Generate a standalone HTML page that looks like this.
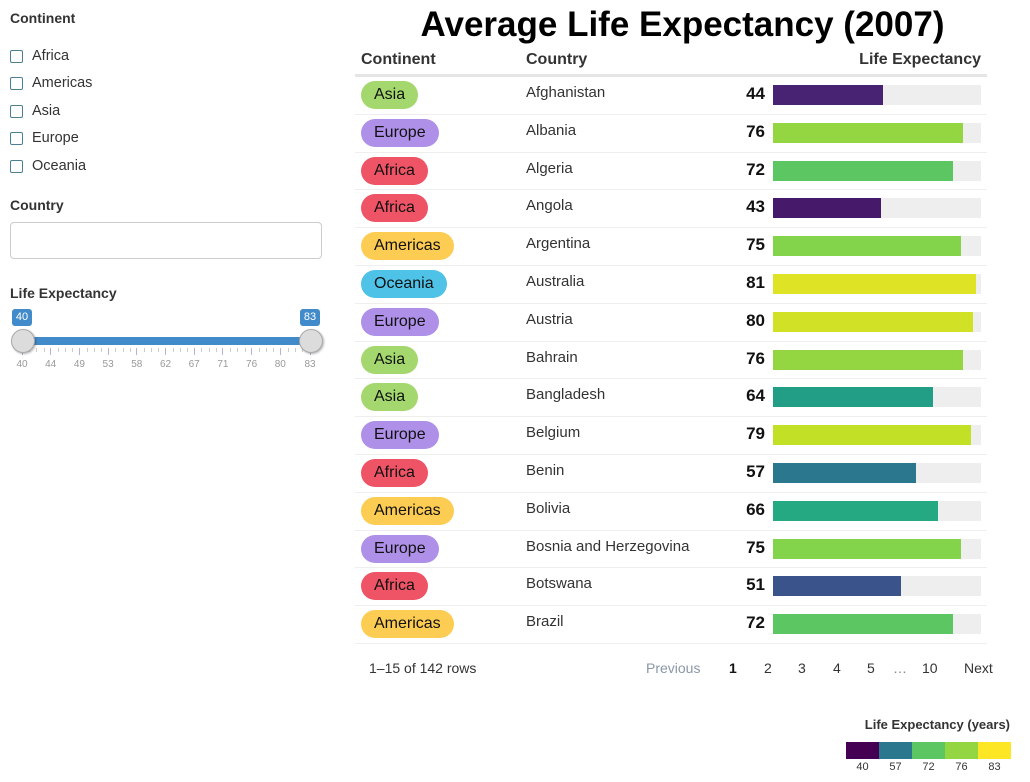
<!DOCTYPE html>
<html><head><meta charset="utf-8"><style>
body{margin:0;width:1030px;height:782px;background:#fff;font-family:"Liberation Sans",sans-serif;color:#333;position:relative;overflow:hidden}
.a{position:absolute}
.lbl{font-weight:bold;font-size:14px;color:#333}
.cb{position:absolute;left:10px;width:11px;height:11px;border:1px solid #4a7f94;border-radius:2px}
.cbt{position:absolute;left:32px;font-size:14.5px;color:#333}
.row{position:absolute;left:355px;width:632px;border-bottom:1px solid #eee}
.pill{position:absolute;left:6px;height:28px;border-radius:14px;font-size:16px;color:#111;line-height:28px;padding:0 13px}
.ctry{position:absolute;left:171px;font-size:15px;color:#333}
.num{position:absolute;right:222px;font-size:17px;font-weight:bold;color:#111}
.bg{position:absolute;left:418px;width:208px;height:20px;background:#eee}
.bar{position:absolute;left:0;top:0;height:20px}
.pg{position:absolute;top:660px;font-size:14px;color:#333}
</style></head><body>
<div class="a lbl" style="left:10px;top:10px">Continent</div>
<div class="cb" style="top:50px"></div><div class="cbt" style="top:48px">Africa</div>
<div class="cb" style="top:77px"></div><div class="cbt" style="top:75px">Americas</div>
<div class="cb" style="top:105px"></div><div class="cbt" style="top:103px">Asia</div>
<div class="cb" style="top:132px"></div><div class="cbt" style="top:130px">Europe</div>
<div class="cb" style="top:160px"></div><div class="cbt" style="top:158px">Oceania</div>
<div class="a lbl" style="left:10px;top:197px">Country</div>
<div class="a" style="left:10px;top:222px;width:310px;height:35px;border:1px solid #ccc;border-radius:4px"></div>
<div class="a lbl" style="left:10px;top:285px">Life Expectancy</div>
<div class="a" id="slider" style="left:0;top:300px;width:340px;height:80px"></div>
<div class="a" style="left:355px;top:5px;width:655px;text-align:center;font-size:35px;font-weight:bold;color:#000">Average Life Expectancy (2007)</div>
<div class="a" style="left:355px;top:50px;width:632px;height:24px;border-bottom:3px solid #e5e5e5">
<span class="a" style="left:6px;top:1px;font-weight:bold;font-size:16px">Continent</span>
<span class="a" style="left:171px;top:1px;font-weight:bold;font-size:16px">Country</span>
<span class="a" style="right:6px;top:1px;font-weight:bold;font-size:16px">Life Expectancy</span>
</div>
<div id="rows"></div>
<div class="pg" style="left:369px">1–15 of 142 rows</div>
<div class="pg" style="left:646px;color:#8a97a8">Previous</div>
<div class="pg" style="left:729px;font-weight:bold;color:#111">1</div>
<div class="pg" style="left:764px">2</div>
<div class="pg" style="left:798px">3</div>
<div class="pg" style="left:833px">4</div>
<div class="pg" style="left:867px">5</div>
<div class="pg" style="left:893px;color:#888">…</div>
<div class="pg" style="left:922px">10</div>
<div class="pg" style="left:964px">Next</div>
<div class="a" style="right:20px;top:717px;font-size:13px;font-weight:bold">Life Expectancy (years)</div>
<div class="a" id="legend" style="left:846px;top:742px;width:165px;height:40px"></div>
<script>
const continents=["Asia","Europe","Africa","Africa","Americas","Oceania","Europe","Asia","Asia","Europe","Africa","Americas","Europe","Africa","Americas"];
const countries=["Afghanistan","Albania","Algeria","Angola","Argentina","Australia","Austria","Bahrain","Bangladesh","Belgium","Benin","Bolivia","Bosnia and Herzegovina","Botswana","Brazil"];
const lifeExp=[44,76,72,43,75,81,80,76,64,79,57,66,75,51,72];
const legendTicks=[40,57,72,76,83];
const sliderTicks=[40,44,49,53,58,62,67,71,76,80,83];
const pillColors={Asia:"#a4d86e",Europe:"#ae90e8",Africa:"#ef5466",Americas:"#fdcc52",Oceania:"#4ec2e7"};
const vir=["#440154","#482475","#414487","#355f8d","#2a788e","#21918c","#22a884","#44bf70","#7ad151","#bddf26","#fde725"];
function hex(h){return [1,3,5].map(i=>parseInt(h.substr(i,2),16));}
function viridis(t){t=Math.max(0,Math.min(1,t));const p=t*(vir.length-1),i=Math.min(Math.floor(p),vir.length-2),f=p-i;const a=hex(vir[i]),b=hex(vir[i+1]);return "rgb("+a.map((v,k)=>Math.round(v+(b[k]-v)*f)).join(",")+")";}
const vmin=40,vmax=83;
function colorOf(v){return viridis((v-vmin)/(vmax-vmin));}
function xBar(v){return v/vmax*208;}
const rowsEl=document.getElementById('rows');
const y0=77,rh=37.8;
countries.forEach((c,i)=>{
 const r=document.createElement('div');r.className='row';
 
 
 r.style.top=(y0+i*rh)+'px';r.style.height=(rh-1)+'px';
 const p=document.createElement('div');p.className='pill';p.textContent=continents[i];
 
 
 p.style.top='4px';p.style.background=pillColors[continents[i]];r.appendChild(p);
 const t=document.createElement('div');t.className='ctry';t.textContent=c;t.style.top='7px';
 
 
 r.appendChild(t);
 const n=document.createElement('div');n.className='num';n.textContent=lifeExp[i];n.style.top='7px';
 
 
 r.appendChild(n);
 const bg=document.createElement('div');bg.className='bg';bg.style.top='8px';
 
 
 const b=document.createElement('div');b.className='bar';b.style.width=xBar(lifeExp[i])+'px';b.style.background=colorOf(lifeExp[i]);
 
 
 bg.appendChild(b);r.appendChild(bg);
 rowsEl.appendChild(r);
});
const lg=document.getElementById('legend');
legendTicks.forEach((v,i)=>{
 const s=document.createElement('div');s.className='a';
 
 
 s.style.cssText+='left:'+(i*33)+'px;top:0;width:33px;height:17px;background:'+colorOf(v);
 lg.appendChild(s);
 const l=document.createElement('div');l.className='a';
 
 
 l.style.cssText+='left:'+(i*33)+'px;top:19px;width:33px;text-align:center;font-size:11px;color:#333';
 l.textContent=v;lg.appendChild(l);
});
const sl=document.getElementById('slider');
const sx0=22,sx1=310;
function sx(i){return i===sliderTicks.length-1?sx1:sx0+i*28.7;}
let h='<div class="a" style="left:'+sx0+'px;top:37px;width:'+(sx1-sx0)+'px;height:8px;background:#428bca"></div>';
sliderTicks.forEach((v,i)=>{const x=sx(i);
 h+='<div class="a" style="left:'+(x-0.5)+'px;top:48px;width:1px;height:7px;background:#b8b3d6"></div>';
 if(i<sliderTicks.length-1){for(let k=1;k<4;k++)h+='<div class="a" style="left:'+(x+k*7.2)+'px;top:48px;width:1px;height:4px;background:#ccc"></div>';}
 h+='<div class="a" style="left:'+(x-15)+'px;top:59px;width:30px;text-align:center;font-size:10px;color:#999">'+v+'</div>';});
[sx0,sx1].forEach((x,j)=>{
 h+='<div class="a" style="left:'+(x-11)+'px;top:29px;width:22px;height:22px;border-radius:50%;background:#dcdcdc;border:1px solid #aaa;box-shadow:1px 1px 2px rgba(0,0,0,.3)"></div>';
 h+='<div class="a" style="left:'+(x-10)+'px;top:9px;width:20px;height:17px;border-radius:3px;background:#428bca;color:#fff;font-size:11px;text-align:center;line-height:17px">'+(j?sliderTicks[sliderTicks.length-1]:sliderTicks[0])+'</div>';
});
sl.innerHTML=h;
</script>
</body></html>
